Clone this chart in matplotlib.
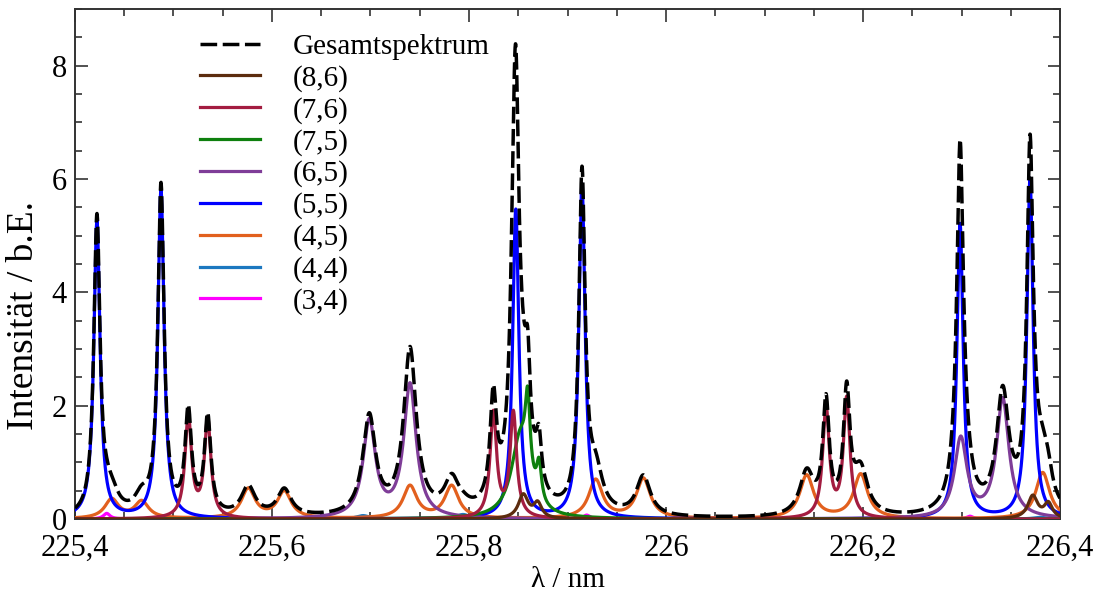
import numpy as np
import matplotlib
matplotlib.use("Agg")
import matplotlib.pyplot as plt
from matplotlib.ticker import MultipleLocator, FuncFormatter

plt.rcParams['font.family'] = ['Liberation Serif', 'DejaVu Serif']

# Wavelength window (nm)
wl_min, wl_max = 225.4, 226.4

# Peak tables per chirality: centre (nm), height (a.u.), half width (nm)
centers_86 = [225.8551, 225.8697, 226.3723, 226.3881]
heights_86 = [0.42, 0.26, 0.40, 0.26]
widths_86 = [0.006, 0.005, 0.006, 0.005]

centers_76 = [225.5150, 225.5347, 225.8247, 225.8450, 226.1624, 226.1834]
heights_76 = [1.80, 1.72, 1.85, 1.85, 1.95, 2.10]
widths_76 = [0.004, 0.004, 0.004, 0.004, 0.004, 0.004]

centers_75 = [225.8520, 225.8596, 225.8711]
heights_75 = [1.40, 1.35, 0.65]
widths_75 = [0.011, 0.003, 0.003]

centers_65 = [225.6988, 225.7401, 226.2992, 226.3418]
heights_65 = [1.70, 2.35, 1.40, 2.10]
widths_65 = [0.0076, 0.0076, 0.0076, 0.0076]

centers_55 = [225.4223, 225.4873, 225.8475, 225.9147, 226.2985, 226.3695]
heights_55 = [5.25, 5.80, 5.45, 5.90, 5.20, 6.00]
widths_55 = [0.0038, 0.0038, 0.0038, 0.0038, 0.0038, 0.0038]

centers_45 = [225.4373, 225.4677, 225.5759, 225.6125, 225.7401, 225.7824,
              225.9286, 225.9770, 226.1428, 226.1976, 226.3824]
heights_45 = [0.34, 0.30, 0.52, 0.47, 0.57, 0.57, 0.68, 0.70, 0.76, 0.78, 0.82]
widths_45 = [0.0085] * 11

centers_44 = [225.6924, 225.7939, 226.3800]
heights_44 = [0.06, 0.08, 0.03]
widths_44 = [0.008, 0.008, 0.008]

centers_34 = [225.4322, 225.9195, 226.3086]
heights_34 = [0.10, 0.07, 0.05]
widths_34 = [0.004, 0.004, 0.004]

labels = ["(8,6)", "(7,6)", "(7,5)", "(6,5)", "(5,5)", "(4,5)", "(4,4)", "(3,4)"]
colors = ["#5C2C0E", "#A31C40", "#0E800E", "#7F3D98", "#0000FF",
          "#E2601E", "#1C78C0", "#FF00FF"]
tables = [
    (centers_86, heights_86, widths_86),
    (centers_76, heights_76, widths_76),
    (centers_75, heights_75, widths_75),
    (centers_65, heights_65, widths_65),
    (centers_55, heights_55, widths_55),
    (centers_45, heights_45, widths_45),
    (centers_44, heights_44, widths_44),
    (centers_34, heights_34, widths_34),
]

wl = np.linspace(wl_min, wl_max, 6001)


def lorentz_sum(x, centers, heights, widths):
    y = np.zeros_like(x)
    for c, h, w in zip(centers, heights, widths):
        y += h / (1.0 + ((x - c) / w) ** 2)
    return y


spectra = [lorentz_sum(wl, *t) for t in tables]
total = np.sum(spectra, axis=0)

fig = plt.figure(figsize=(11.01, 6.01), dpi=100)
ax = fig.add_axes([0.0681, 0.1364, 0.8947, 0.8486])

n = len(spectra)
handles = []
for i, (spec, lab, col) in enumerate(zip(spectra, labels, colors)):
    h, = ax.plot(wl, spec, color=col, lw=2.3, label=lab, zorder=2 + (n - i))
    handles.append(h)

h_tot, = ax.plot(wl, total, color="black", lw=2.5, dashes=(4.8, 1.6),
                 label="Gesamtspektrum", zorder=20)

ax.set_xlim(wl_min, wl_max)
ax.set_ylim(0, 9)

ax.xaxis.set_major_locator(MultipleLocator(0.2))
ax.xaxis.set_minor_locator(MultipleLocator(0.05))
ax.yaxis.set_major_locator(MultipleLocator(2))
ax.yaxis.set_minor_locator(MultipleLocator(0.5))


def comma_fmt(v, pos):
    s = f"{v:.1f}".rstrip("0").rstrip(".")
    return s.replace(".", ",")


ax.xaxis.set_major_formatter(FuncFormatter(comma_fmt))
ax.yaxis.set_major_formatter(FuncFormatter(lambda v, p: f"{v:.0f}"))

ax.tick_params(which="both", direction="in", top=True, right=True,
               labelsize=22, color="#333333", width=1.2)
ax.tick_params(which="major", length=9)
ax.tick_params(which="minor", length=5)
ax.tick_params(axis="x", which="major", pad=11)
ax.tick_params(axis="y", which="major", pad=6)
for sp in ax.spines.values():
    sp.set_linewidth(1.4)
    sp.set_color("#333333")

ax.set_xlabel("λ / nm", fontsize=21, labelpad=3)
ax.set_ylabel("Intensität / b.E.", fontsize=27)
ax.yaxis.set_label_coords(-0.034, 0.40)

leg = ax.legend(handles=[h_tot] + handles, loc="upper left",
                bbox_to_anchor=(0.115, 0.975), frameon=False, fontsize=21,
                handlelength=2.05, handletextpad=1.13, labelspacing=0.17,
                borderaxespad=0.0)

fig.savefig("out.png", dpi=100)
